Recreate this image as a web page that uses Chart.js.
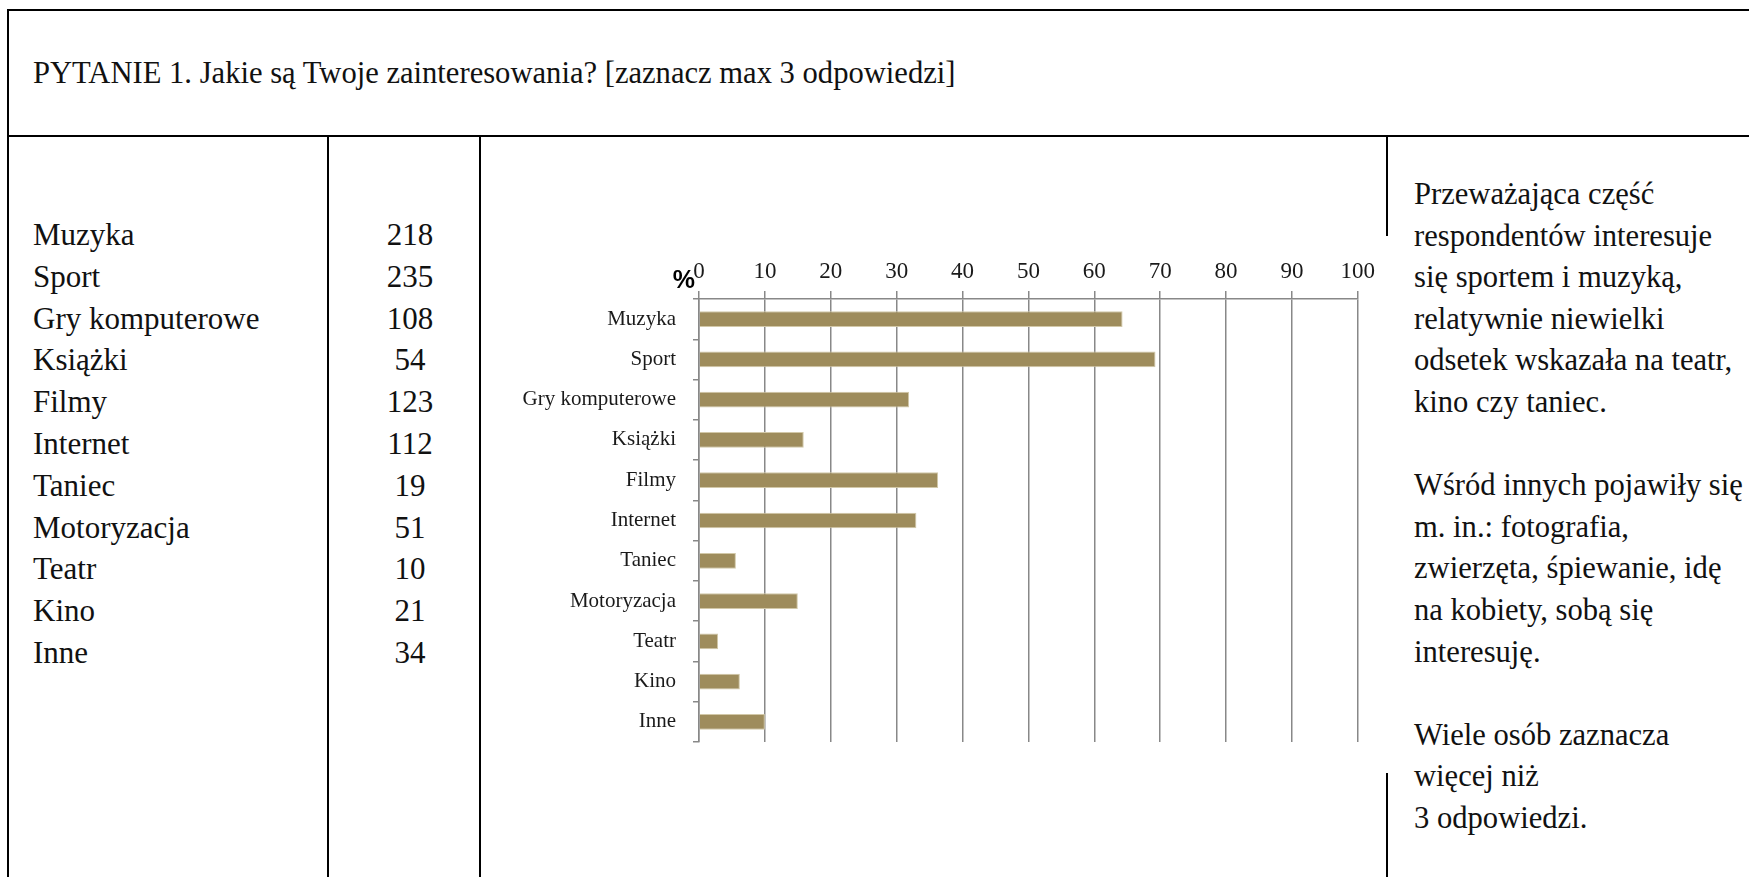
<!DOCTYPE html>
<html lang="pl">
<head>
<meta charset="utf-8">
<title>PYTANIE 1. Zainteresowania</title>
<script src="https://cdn.jsdelivr.net/npm/chart.js@4.4.1/dist/chart.umd.min.js"></script>
<style>
  html, body { margin: 0; padding: 0; background: #fff; }
  body { width: 1749px; height: 877px; position: relative; overflow: hidden;
         font-family: "Liberation Serif", "Times New Roman", serif; color: #111; }
  .rule { position: absolute; background: #000; }
  .title { position: absolute; left: 33px; top: 53px; font-size: 30.6px; line-height: 40px; white-space: nowrap; }
  .names, .counts, .note { position: absolute; font-size: 31px; line-height: 41.8px; white-space: nowrap; }
  .names { left: 33px; top: 214px; }
  .counts { left: 330px; width: 160px; top: 214px; text-align: center; }
  .note { left: 1414px; top: 174px; line-height: 41.6px; font-size: 30.6px; }
  #chartBox { position: absolute; left: 440px; top: 200px; }
</style>
</head>
<body>
<!-- table frame -->
<div class="rule" style="left:7px; top:9px; width:1742px; height:2px;"></div>
<div class="rule" style="left:7px; top:9px; width:2px; height:868px;"></div>
<div class="rule" style="left:7px; top:135px; width:1742px; height:2px;"></div>
<div class="rule" style="left:327px; top:136px; width:2px; height:741px;"></div>
<div class="rule" style="left:479px; top:136px; width:2px; height:741px;"></div>
<div class="rule" style="left:1386px; top:136px; width:2px; height:100px;"></div>
<div class="rule" style="left:1386px; top:773px; width:2px; height:104px;"></div>

<div class="title">PYTANIE 1. Jakie są Twoje zainteresowania? [zaznacz max 3 odpowiedzi]</div>
<div class="names" id="names"></div>
<div class="counts" id="counts"></div>
<div class="note" id="note"></div>

<div id="chartBox"><canvas id="chart" width="940" height="580"></canvas></div>

<script>
// Answers and number of respondents who picked each one
const categories = ['Muzyka', 'Sport', 'Gry komputerowe', 'Książki', 'Filmy', 'Internet',
                    'Taniec', 'Motoryzacja', 'Teatr', 'Kino', 'Inne'];
const counts = [218, 235, 108, 54, 123, 112, 19, 51, 10, 21, 34];
// Share of respondents, in percent
const percents = [64.3, 69.3, 31.9, 15.9, 36.3, 33.0, 5.6, 15.0, 2.9, 6.2, 10.0];
// Percent axis
const axisMin = 0;
const axisMax = 100;
const axisStep = 10;
const axisUnit = '%';

// Commentary column, one entry per line ('' = empty line)
const noteLines = [
  'Przeważająca część',
  'respondentów interesuje',
  'się sportem i muzyką,',
  'relatywnie niewielki',
  'odsetek wskazała na teatr,',
  'kino czy taniec.',
  '',
  'Wśród innych pojawiły się',
  'm. in.: fotografia,',
  'zwierzęta, śpiewanie, idę',
  'na kobiety, sobą się',
  'interesuję.',
  '',
  'Wiele osób zaznacza',
  'więcej niż',
  '3 odpowiedzi.'
];

// Left table: answer names and counts
const namesEl = document.getElementById('names');
const countsEl = document.getElementById('counts');
categories.forEach((c, i) => {
  const n = document.createElement('div'); n.textContent = c; namesEl.appendChild(n);
  const v = document.createElement('div'); v.textContent = counts[i]; countsEl.appendChild(v);
});
const noteEl = document.getElementById('note');
noteLines.forEach(t => {
  const d = document.createElement('div');
  d.textContent = t === '' ? '\u00a0' : t;
  noteEl.appendChild(d);
});

const gridColor = '#888888';
const serif = '"Liberation Serif", "Times New Roman", serif';

// Unit sign drawn to the left of the top axis
const unitLabel = {
  id: 'unitLabel',
  afterDraw(chart) {
    const { ctx, chartArea } = chart;
    ctx.save();
    ctx.font = 'bold 25px "Liberation Sans", Arial, sans-serif';
    ctx.fillStyle = '#000';
    ctx.textAlign = 'right';
    ctx.textBaseline = 'alphabetic';
    ctx.fillText(axisUnit, chartArea.left - 4, chartArea.top - 11);
    ctx.restore();
  }
};

new Chart(document.getElementById('chart'), {
  type: 'bar',
  data: {
    labels: categories,
    datasets: [{
      data: percents,
      backgroundColor: '#9e8c5c',
      borderColor: '#d2c8a8',
      borderWidth: 1,
      categoryPercentage: 1,
      barPercentage: 0.39
    }]
  },
  options: {
    indexAxis: 'y',
    responsive: false,
    animation: false,
    layout: { padding: { top: 0, left: 0, right: 22, bottom: 38 } },
    plugins: { legend: { display: false }, tooltip: { enabled: false } },
    scales: {
      x: {
        position: 'top',
        min: axisMin,
        max: axisMax,
        ticks: { stepSize: axisStep, padding: 5, color: '#1a1a1a',
                 font: { family: serif, size: 23 } },
        grid: { color: gridColor, lineWidth: 1.5, tickLength: 8, drawTicks: true },
        border: { display: true, color: gridColor, width: 1.5 },
        afterFit(scale) { scale.height = 99; }
      },
      y: {
        ticks: { padding: 17, color: '#1a1a1a', font: { family: serif, size: 21 } },
        grid: { drawOnChartArea: false, drawTicks: true, tickLength: 6,
                color: gridColor, lineWidth: 1.5, offset: true },
        border: { display: true, color: gridColor, width: 1.5 },
        afterFit(scale) { scale.width = 259; }
      }
    }
  },
  plugins: [unitLabel]
});
</script>
</body>
</html>
